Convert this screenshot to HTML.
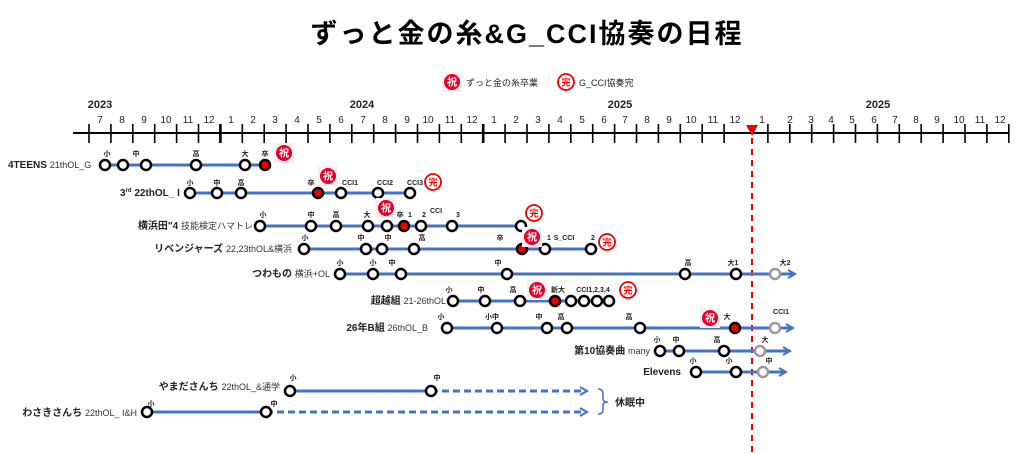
<!DOCTYPE html>
<html><head><meta charset="utf-8"><style>
body{margin:0;background:#fff;}
svg{display:block;font-family:"Liberation Sans","Noto Sans CJK JP",sans-serif;}
.m{font-size:10px;text-anchor:middle;fill:#222;}
.y{font-size:11px;font-weight:bold;text-anchor:middle;fill:#222;}
.l{font-size:7px;font-weight:bold;text-anchor:middle;fill:#222;}
.nm{font-size:10px;font-weight:bold;fill:#222;}
.sb{font-size:9px;font-weight:normal;fill:#333;}
.ln{stroke:#4472C4;stroke-width:3;fill:none;}
.dl{stroke:#4472C4;stroke-width:3;fill:none;stroke-dasharray:7,4;}
.n{fill:#fff;stroke:#000;stroke-width:2.5;}
.r{fill:#e00;stroke:#000;stroke-width:2.5;}
.g{fill:#fff;stroke:#999;stroke-width:2.5;}
</style></head><body>
<svg width="1024" height="454" viewBox="0 0 1024 454">
<defs>
<g id="iw"><rect x="-10" y="-10" width="20" height="20" fill="#fbeef0"/><circle r="8" fill="#e4002b"/><text y="3.5" font-size="10" font-weight="bold" fill="#fff" text-anchor="middle" font-family="Noto Sans CJK JP,sans-serif">祝</text></g>
<g id="kn"><circle r="8" fill="#fff" stroke="#e00" stroke-width="1.8"/><text y="3.5" font-size="9" font-weight="bold" fill="#e00" text-anchor="middle" font-family="Noto Sans CJK JP,sans-serif">完</text></g>
<marker id="ar" markerWidth="10" markerHeight="10" refX="8" refY="5" orient="auto" markerUnits="userSpaceOnUse"><path d="M1,1 L8,5 L1,9" fill="none" stroke="#4472C4" stroke-width="2"/></marker>
</defs>
<text x="527" y="43" font-size="27" font-weight="bold" text-anchor="middle" fill="#000" letter-spacing="2" font-family="Liberation Sans,Noto Sans CJK JP,sans-serif">ずっと金の糸&amp;G_CCI協奏の日程</text>
<use href="#iw" x="452" y="82"/><text x="466" y="86" font-size="9" fill="#222">ずっと金の糸卒業</text>
<use href="#kn" x="566" y="82"/><text x="579" y="86" font-size="9" fill="#222">G_CCI協奏完</text>

<text class="y" x="100" y="108">2023</text><text class="y" x="362" y="108">2024</text><text class="y" x="620" y="108">2025</text><text class="y" x="878" y="108">2025</text>
<line x1="73" y1="133" x2="1009" y2="133" stroke="#000" stroke-width="2"/>
<path stroke="#000" stroke-width="1.6" d="M89,124V143M110.9,124V143M132.8,124V143M154.7,124V143M176.6,124V143M198.5,124V143M242.3,124V143M264.2,124V143M286.1,124V143M308,124V143M329.9,124V143M351.8,124V143M373.7,124V143M395.6,124V143M417.5,124V143M439.4,124V143M461.3,124V143M505.1,124V143M527,124V143M548.9,124V143M570.8,124V143M592.7,124V143M614.6,124V143M636.5,124V143M658.4,124V143M680.3,124V143M702.2,124V143M724.1,124V143M767.9,124V143M789.8,124V143M811.7,124V143M833.6,124V143M855.5,124V143M877.4,124V143M899.3,124V143M921.2,124V143M943.1,124V143M965,124V143M986.9,124V143M1008.8,124V143"/>
<path stroke="#000" stroke-width="2.6" d="M220.4,124V143M483.2,124V143"/>
<g class="m">
<text x="100" y="123">7</text><text x="122" y="123">8</text><text x="144" y="123">9</text><text x="166" y="123">10</text><text x="188" y="123">11</text><text x="209" y="123">12</text>
<text x="231" y="123">1</text><text x="253" y="123">2</text><text x="275" y="123">3</text><text x="297" y="123">4</text><text x="319" y="123">5</text><text x="341" y="123">6</text><text x="363" y="123">7</text><text x="385" y="123">8</text><text x="407" y="123">9</text><text x="428" y="123">10</text><text x="450" y="123">11</text><text x="472" y="123">12</text>
<text x="494" y="123">1</text><text x="516" y="123">2</text><text x="538" y="123">3</text><text x="560" y="123">4</text><text x="582" y="123">5</text><text x="604" y="123">6</text><text x="625" y="123">7</text><text x="647" y="123">8</text><text x="669" y="123">9</text><text x="691" y="123">10</text><text x="713" y="123">11</text><text x="735" y="123">12</text>
<text x="762" y="123">1</text><text x="790" y="123">2</text><text x="811" y="123">3</text><text x="831" y="123">4</text><text x="852" y="123">5</text><text x="874" y="123">6</text><text x="895" y="123">7</text><text x="916" y="123">8</text><text x="937" y="123">9</text><text x="959" y="123">10</text><text x="980" y="123">11</text><text x="1000" y="123">12</text>
</g>
<line x1="752" y1="138" x2="752" y2="454" stroke="#e00" stroke-width="2" stroke-dasharray="6,5"/>
<path d="M746,125 L758,125 L752,136 Z" fill="#e00"/>

<!-- Row1 -->
<text x="8" y="168" class="nm">4TEENS <tspan class="sb">21thOL_G</tspan></text>
<line class="ln" x1="105" y1="165" x2="265" y2="165"/>
<circle class="n" cx="105" cy="165" r="5"/><circle class="n" cx="123" cy="165" r="5"/><circle class="n" cx="146" cy="165" r="5"/><circle class="n" cx="196" cy="165" r="5"/><circle class="n" cx="245" cy="165" r="5"/><circle class="r" cx="265" cy="165" r="5"/>
<g class="l"><text x="107" y="156">小</text><text x="136" y="156">中</text><text x="196" y="156">高</text><text x="245" y="156">大</text><text x="265" y="156">卒</text></g>
<use href="#iw" x="284" y="153"/>

<!-- Row2 -->
<text x="120" y="196" class="nm">3<tspan font-size="6" dy="-4">rd</tspan><tspan dy="4"> 22thOL_ I</tspan></text>
<line class="ln" x1="190" y1="193" x2="410" y2="193"/>
<circle class="n" cx="190" cy="193" r="5"/><circle class="n" cx="217" cy="193" r="5"/><circle class="n" cx="241" cy="193" r="5"/><circle class="r" cx="318" cy="193" r="5"/><circle class="n" cx="341" cy="193" r="5"/><circle class="n" cx="378" cy="193" r="5"/><circle class="n" cx="410" cy="193" r="5"/>
<g class="l"><text x="190" y="185">小</text><text x="217" y="185">中</text><text x="241" y="185">高</text><text x="311" y="185">卒</text><text x="350" y="185">CCI1</text><text x="385" y="185">CCI2</text><text x="415" y="185">CCI3</text></g>
<use href="#iw" x="328" y="176"/><use href="#kn" x="433" y="182"/>

<!-- Row3 -->
<text x="253" y="229" class="nm" text-anchor="end">横浜田"4 <tspan class="sb">技能検定ハマトレ</tspan></text>
<line class="ln" x1="260" y1="226" x2="521" y2="226"/>
<circle class="n" cx="260" cy="226" r="5"/><circle class="n" cx="311" cy="226" r="5"/><circle class="n" cx="336" cy="226" r="5"/><circle class="n" cx="368" cy="226" r="5"/><circle class="n" cx="387" cy="226" r="5"/><circle class="r" cx="404" cy="226" r="5"/><circle class="n" cx="421" cy="226" r="5"/><circle class="n" cx="452" cy="226" r="5"/><circle class="n" cx="521" cy="226" r="5"/>
<g class="l"><text x="263" y="217">小</text><text x="311" y="217">中</text><text x="336" y="217">高</text><text x="367" y="217">大</text><text x="400" y="217">卒</text><text x="410" y="217">1</text><text x="424" y="217">2</text><text x="436" y="213">CCI</text><text x="458" y="217">3</text></g>
<use href="#iw" x="386" y="208"/><use href="#kn" x="534" y="213"/>

<!-- Row4 -->
<text x="292" y="252" class="nm" text-anchor="end">リベンジャーズ <tspan class="sb">22,23thOL&amp;横浜</tspan></text>
<line class="ln" x1="304" y1="249" x2="591" y2="249"/>
<circle class="n" cx="304" cy="249" r="5"/><circle class="n" cx="366" cy="249" r="5"/><circle class="n" cx="382" cy="249" r="5"/><circle class="n" cx="414" cy="249" r="5"/><circle class="r" cx="522" cy="249" r="5"/><circle class="n" cx="545" cy="249" r="5"/><circle class="n" cx="591" cy="249" r="5"/>
<g class="l"><text x="305" y="240">小</text><text x="361" y="240">中</text><text x="388" y="240">中</text><text x="422" y="240">高</text><text x="500" y="240">卒</text><text x="549" y="240">1</text><text x="564" y="240">S_CCI</text><text x="593" y="240">2</text></g>
<use href="#iw" x="532" y="237"/><use href="#kn" x="607" y="242"/>

<!-- Row5 -->
<text x="330" y="277" class="nm" text-anchor="end">つわもの <tspan class="sb">横浜+OL</tspan></text>
<line class="ln" x1="340" y1="274" x2="795" y2="274" marker-end="url(#ar)"/>
<circle class="n" cx="340" cy="274" r="5"/><circle class="n" cx="373" cy="274" r="5"/><circle class="n" cx="401" cy="274" r="5"/><circle class="n" cx="507" cy="274" r="5"/><circle class="n" cx="685" cy="274" r="5"/><circle class="n" cx="736" cy="274" r="5"/><circle class="g" cx="775" cy="274" r="5"/>
<g class="l"><text x="340" y="265">小</text><text x="373" y="265">小</text><text x="392" y="265">中</text><text x="498" y="265">中</text><text x="688" y="265">高</text><text x="733" y="265">大1</text><text x="785" y="265">大2</text></g>

<!-- Row6 -->
<text x="446" y="304" class="nm" text-anchor="end">超越組 <tspan class="sb">21-26thOL</tspan></text>
<line class="ln" x1="453" y1="301" x2="609" y2="301"/>
<circle class="n" cx="453" cy="301" r="5"/><circle class="n" cx="485" cy="301" r="5"/><circle class="n" cx="520" cy="301" r="5"/><circle class="r" cx="555" cy="301" r="5"/><circle class="n" cx="571" cy="301" r="5"/><circle class="n" cx="584" cy="301" r="5"/><circle class="n" cx="597" cy="301" r="5"/><circle class="n" cx="609" cy="301" r="5"/>
<g class="l"><text x="449" y="292">小</text><text x="481" y="292">中</text><text x="513" y="292">高</text><text x="558" y="292">新大</text><text x="593" y="292">CCI1,2,3,4</text></g>
<use href="#iw" x="537" y="290"/><use href="#kn" x="628" y="290"/>

<!-- Row7 -->
<text x="428" y="331" class="nm" text-anchor="end">26年B組 <tspan class="sb">26thOL_B</tspan></text>
<line class="ln" x1="447" y1="328" x2="793" y2="328" marker-end="url(#ar)"/>
<circle class="n" cx="447" cy="328" r="5"/><circle class="n" cx="497" cy="328" r="5"/><circle class="n" cx="547" cy="328" r="5"/><circle class="n" cx="567" cy="328" r="5"/><circle class="n" cx="640" cy="328" r="5"/><circle class="r" cx="735" cy="328" r="5"/><circle class="g" cx="775" cy="328" r="5"/>
<g class="l"><text x="441" y="319">小</text><text x="492" y="319">小中</text><text x="539" y="319">中</text><text x="561" y="319">高</text><text x="629" y="319">高</text><text x="727" y="319">大</text><text x="781" y="314">CCI1</text></g>
<use href="#iw" x="710" y="318"/>

<!-- Row8 -->
<text x="650" y="354" class="nm" text-anchor="end">第10協奏曲 <tspan class="sb">many</tspan></text>
<line class="ln" x1="660" y1="351" x2="790" y2="351" marker-end="url(#ar)"/>
<circle class="n" cx="660" cy="351" r="5"/><circle class="n" cx="679" cy="351" r="5"/><circle class="n" cx="724" cy="351" r="5"/><circle class="g" cx="760" cy="351" r="5"/>
<g class="l"><text x="657" y="342">小</text><text x="676" y="342">中</text><text x="717" y="342">高</text><text x="765" y="342">大</text></g>

<!-- Row9 -->
<text x="681" y="375" class="nm" text-anchor="end">Elevens</text>
<line class="ln" x1="696" y1="372" x2="786" y2="372" marker-end="url(#ar)"/>
<circle class="n" cx="696" cy="372" r="5"/><circle class="n" cx="736" cy="372" r="5"/><circle class="g" cx="763" cy="372" r="5"/>
<g class="l"><text x="693" y="363">小</text><text x="729" y="363">小</text><text x="769" y="363">中</text></g>

<!-- Row10 -->
<text x="280" y="390" class="nm" text-anchor="end">やまださんち <tspan class="sb">22thOL_&amp;通学</tspan></text>
<line class="ln" x1="290" y1="391" x2="431" y2="391"/>
<line class="dl" x1="431" y1="391" x2="587" y2="391" marker-end="url(#ar)"/>
<circle class="n" cx="290" cy="391" r="5"/><circle class="n" cx="431" cy="391" r="5"/>
<g class="l"><text x="293" y="380">小</text><text x="437" y="380">中</text></g>

<!-- Row11 -->
<text x="137" y="416" class="nm" text-anchor="end">わさきさんち <tspan class="sb">22thOL_ I&amp;H</tspan></text>
<line class="ln" x1="147" y1="412" x2="266" y2="412"/>
<line class="dl" x1="266" y1="412" x2="587" y2="412" marker-end="url(#ar)"/>
<circle class="n" cx="147" cy="412" r="5"/><circle class="n" cx="266" cy="412" r="5"/>
<g class="l"><text x="151" y="406">小</text><text x="274" y="406">中</text></g>

<path d="M598,389 Q603,389 603,394 L603,399 Q603,402 608,402 Q603,402 603,405 L603,410 Q603,414 598,414" fill="none" stroke="#4472C4" stroke-width="1.5"/>
<text x="615" y="406" font-size="10" font-weight="bold" fill="#222">休眠中</text>
</svg>
</body></html>
